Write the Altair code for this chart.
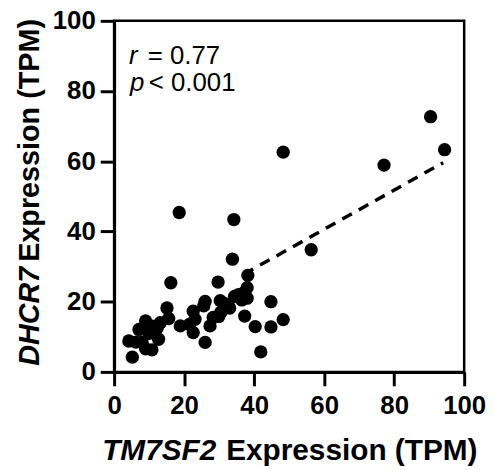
import altair as alt
import pandas as pd

# TM7SF2 (x) vs DHCR7 (y) expression, TPM
tm7sf2 = [90.4, 94.4, 77.1, 48.3, 18.6, 34.2, 56.3, 33.8, 38.2, 16.2, 29.7,
          44.8, 48.3, 44.8, 40.3, 37.3, 41.9,
          38.0, 37.0, 35.5, 34.4, 36.5, 38.0, 33.0, 31.5, 30.5, 29.9, 28.3, 27.4, 26.0, 30.3,
          26.0, 25.6, 22.6, 23.1, 22.6, 18.9, 21.5,
          15.1, 15.6, 13.2, 12.3, 11.0, 9.0, 9.5, 7.1, 12.7, 10.8, 9.0, 8.0, 6.2, 4.2, 5.2, 10.0]
dhcr7 = [72.7, 63.3, 58.9, 62.6, 45.4, 43.4, 34.8, 32.1, 27.5, 25.4, 25.6,
         20.0, 14.9, 12.8, 12.9, 15.9, 5.7,
         24.0, 22.5, 22.0, 21.5, 20.5, 21.0, 18.2, 19.5, 17.0, 15.8, 15.5, 13.1, 8.4, 20.3,
         20.1, 18.8, 17.3, 15.0, 11.2, 13.1, 13.5,
         18.2, 15.2, 14.0, 12.5, 13.0, 14.5, 12.8, 12.1, 9.3, 6.3, 6.6, 8.5, 8.5, 8.8, 4.2, 11.0]

# regression line end points
fit_x = [37.0, 94.0]
fit_y = [27.8, 59.6]

ticks = [0, 20, 40, 60, 80, 100]

FONT = "Liberation Sans"

pts = pd.DataFrame({"x": tm7sf2, "y": dhcr7})
fit = pd.DataFrame({"x": fit_x, "y": fit_y})
one = pd.DataFrame({"a": [0]})

xs = alt.Scale(domain=[0, 100], nice=False, zero=False)
ys = alt.Scale(domain=[0, 100], nice=False, zero=False)

xaxis = alt.Axis(values=ticks, title=None, grid=False, labelFont=FONT, labelFontSize=26,
                 labelFontWeight="bold", labelColor="black", tickSize=14, tickWidth=3,
                 tickColor="black", domainColor="black", domainWidth=3, labelPadding=7,
                 labelFlush=False)
yaxis = alt.Axis(values=ticks, title=None, grid=False, labelFont=FONT, labelFontSize=26,
                 labelFontWeight="bold", labelColor="black", tickSize=14, tickWidth=3,
                 tickColor="black", domainColor="black", domainWidth=3, labelPadding=5,
                 labelFlush=False)

line = alt.Chart(fit).mark_line(color="black", strokeWidth=3.5, strokeDash=[11, 8]).encode(
    x=alt.X("x:Q", scale=xs, axis=xaxis),
    y=alt.Y("y:Q", scale=ys, axis=yaxis),
)

points = alt.Chart(pts).mark_circle(color="black", opacity=1, size=180).encode(
    x=alt.X("x:Q", scale=xs),
    y=alt.Y("y:Q", scale=ys),
)


def txt(s, x, y, size, weight="normal", style="normal", align="left", angle=0):
    kw = dict(text=s, font=FONT, fontSize=size, fontWeight=weight, fontStyle=style,
              align=align, baseline="alphabetic", color="black")
    if angle:
        kw["angle"] = angle
    return alt.Chart(one).mark_text(**kw).encode(x=alt.value(x), y=alt.value(y))


texts = [
    txt("TM7SF2", 103, 443, 30, "bold", "italic", "right"),
    txt("Expression (TPM)", 113, 443, 30, "bold", "normal", "left"),
    txt("DHCR7", -76, 248, 29, "bold", "italic", "right", 270),
    txt("Expression (TPM)", -76, 243, 29, "bold", "normal", "left", 270),
    txt("r", 15, 44, 26, "normal", "italic", "left"),
    txt("= 0.77", 34, 44, 26, "normal", "normal", "left"),
    txt("p", 16, 71, 26, "normal", "italic", "left"),
    txt("< 0.001", 35, 71, 26, "normal", "normal", "left"),
]

chart = alt.layer(line, points, *texts).properties(
    width=353, height=354,
    autosize=alt.AutoSizeParams(type="none"),
    padding={"left": 107, "top": 11, "right": 22, "bottom": 100},
).configure_view(stroke="black", strokeWidth=2.5)

chart.save("out.html", embed_options={"renderer": "svg", "actions": False})
